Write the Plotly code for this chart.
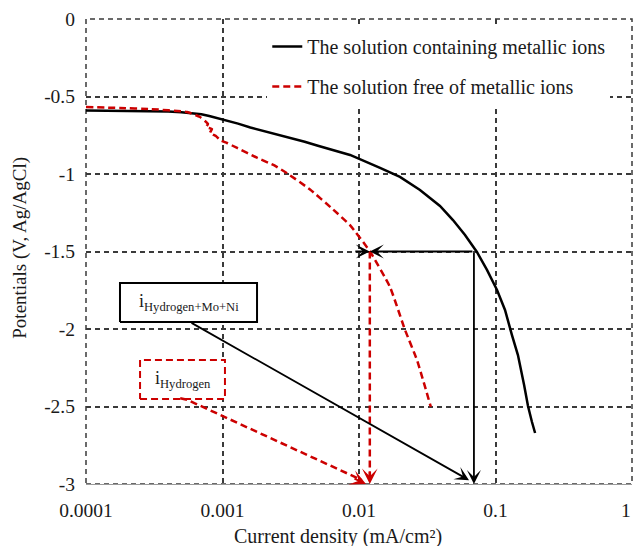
import numpy as np
import plotly.graph_objects as go

# Polarization curves: current density (mA/cm2) vs potential (V vs Ag/AgCl)
metal_current = [0.0001, 0.0002, 0.0003, 0.0004, 0.0005, 0.0006, 0.0007, 0.0008,
                 0.0009, 0.001, 0.0013, 0.0016, 0.002, 0.003, 0.004, 0.005, 0.006,
                 0.0086, 0.01426, 0.01995, 0.02798, 0.0392, 0.0488, 0.0598, 0.0731,
                 0.0866, 0.1026, 0.1174, 0.132, 0.146, 0.162, 0.173, 0.185, 0.195]
metal_potential = [-0.590, -0.592, -0.594, -0.597, -0.601, -0.607, -0.615, -0.626,
                   -0.638, -0.647, -0.675, -0.700, -0.722, -0.762, -0.792, -0.818, -0.838,
                   -0.877, -0.961, -1.019, -1.103, -1.206, -1.297, -1.394, -1.503,
                   -1.619, -1.748, -1.877, -2.039, -2.168, -2.361, -2.497, -2.600, -2.671]

free_current = [0.0001, 0.000177, 0.000294, 0.00055, 0.000684, 0.000744, 0.000783,
                0.00076, 0.000837, 0.00081, 0.000895, 0.000959, 0.00108, 0.00128,
                0.00179, 0.0024, 0.00297, 0.00438, 0.00645, 0.00859, 0.01205, 0.01687,
                0.02173, 0.0266, 0.0336]
free_potential = [-0.568, -0.574, -0.581, -0.600, -0.632, -0.658, -0.677,
                  -0.697, -0.710, -0.735, -0.755, -0.781, -0.800, -0.832,
                  -0.895, -0.945, -0.995, -1.100, -1.228, -1.330, -1.500, -1.729,
                  -2.006, -2.200, -2.503]

# Currents read at the reference potential of -1.5 V
ref_potential = -1.5
bottom_potential = -3.0
i_hydrogen = 0.012
i_total = 0.0695

x_tickvals = [0.0001, 0.001, 0.01, 0.1, 1]
x_ticktext = ["0.0001", "0.001", "0.01", "0.1", "1"]
y_tickvals = [0, -0.5, -1, -1.5, -2, -2.5, -3]
y_ticktext = ["0", "-0.5", "-1", "-1.5", "-2", "-2.5", "-3"]

FONT = "Liberation Serif, Times New Roman, serif"
INK = "#1a1a1a"
RED = "#cc0000"
GRID = "#3a3a3a"
DASH = "7px,4px"

lg = np.log10


def box_trace(x0, x1, y0, y1, color, dash):
    """Closed, white-filled rectangle in data coordinates."""
    return go.Scatter(
        x=[x0, x1, x1, x0, x0], y=[y0, y0, y1, y1, y0],
        mode="lines", fill="toself", fillcolor="white",
        line=dict(color=color, width=2, dash=dash),
        showlegend=False, hoverinfo="skip")


fig = go.Figure()
fig.add_trace(go.Scatter(
    x=metal_current, y=metal_potential, mode="lines",
    name="The solution containing metallic ions",
    line=dict(color="black", width=2.5), legendgroup="a"))
fig.add_trace(go.Scatter(
    x=free_current, y=free_potential, mode="lines",
    name="The solution free of metallic ions",
    line=dict(color=RED, width=2.5, dash=DASH, shape="spline", smoothing=0.4),
    legendgroup="b"))

# label boxes
fig.add_trace(box_trace(10 ** -3.751, 10 ** -2.747, -1.955, -1.703, "black", "solid"))
fig.add_trace(box_trace(10 ** -3.604, 10 ** -2.982, -2.452, -2.200, RED, DASH))

# dashed red guides: i_Hydrogen read-off and pointer from its label
fig.add_trace(go.Scatter(
    x=[i_hydrogen, i_hydrogen], y=[ref_potential, bottom_potential + 0.05],
    mode="lines", line=dict(color=RED, width=2.5, dash=DASH),
    showlegend=False, hoverinfo="skip"))
fig.add_trace(go.Scatter(
    x=[10 ** -3.31, 10 ** -3.26, 0.0105], y=[-2.447, -2.456, bottom_potential + 0.025],
    mode="lines", line=dict(color=RED, width=2.5, dash=DASH),
    showlegend=False, hoverinfo="skip"))

shapes = [
    # dashed frame
    dict(type="rect", xref="paper", yref="paper", x0=0, x1=1, y0=0, y1=1,
         line=dict(color=GRID, width=1.5, dash="5px,4px"), layer="below"),
]

ARW = dict(arrowhead=3, arrowsize=1.3, arrowwidth=1.8, arrowcolor="black", text="",
           showarrow=True, xref="x", yref="y")
ARR = dict(arrowhead=3, arrowsize=1.3, arrowwidth=2, arrowcolor=RED, text="",
           showarrow=True, xref="x", yref="y")

annotations = [
    # box labels
    dict(x=-3.249, y=-1.829, xref="x", yref="y", showarrow=False,
         text="i<sub>Hydrogen+Mo+Ni</sub>", font=dict(family=FONT, size=18, color=INK)),
    dict(x=-3.293, y=-2.326, xref="x", yref="y", showarrow=False,
         text="i<sub>Hydrogen</sub>", font=dict(family=FONT, size=18, color=INK)),
    # black arrows
    dict(x=lg(i_hydrogen), y=ref_potential, ax=lg(i_total), ay=ref_potential,
         axref="x", ayref="y", **ARW),
    dict(x=lg(i_hydrogen), y=ref_potential, ax=-16, ay=0, **ARW),
    dict(x=lg(i_total), y=bottom_potential, ax=lg(i_total), ay=ref_potential,
         axref="x", ayref="y", **ARW),
    dict(x=lg(0.064), y=-2.975, ax=-3.238, ay=-1.955,
         axref="x", ayref="y", **ARW),
    # red arrow heads
    dict(x=lg(i_hydrogen), y=bottom_potential, ax=0, ay=-14, **ARR),
    dict(x=lg(0.01125), y=bottom_potential, ax=-13, ay=-6, **ARR),
    # last x tick label sits on the figure edge
    dict(x=1, y=-0.056, xref="paper", yref="paper", showarrow=False,
         text=x_ticktext[-1], xanchor="right", yanchor="middle", xshift=1,
         font=dict(family=FONT, size=19.5, color=INK)),
    # axis titles
    dict(x=0.462, y=-0.112, xref="paper", yref="paper", showarrow=False,
         text="Current density (mA/cm²)", yanchor="middle",
         font=dict(family=FONT, size=20, color=INK)),
    dict(x=-0.121, y=0.508, xref="paper", yref="paper", showarrow=False,
         text="Potentials (V, Ag/AgCl)", textangle=-90, xanchor="center",
         font=dict(family=FONT, size=19, color=INK)),
]

fig.update_layout(
    width=633, height=546,
    margin=dict(l=86, r=1, t=19, b=62),
    paper_bgcolor="white", plot_bgcolor="white",
    font=dict(family=FONT, size=19.5, color=INK),
    shapes=shapes, annotations=annotations,
    legend=dict(x=0.332, y=0.983, xanchor="left", yanchor="top",
                bgcolor="white", borderwidth=0, tracegroupgap=11,
                font=dict(family=FONT, size=20, color=INK)),
    xaxis=dict(type="log", range=[-4, 0], tickvals=x_tickvals[:-1],
               ticktext=x_ticktext[:-1],
               showgrid=True, gridcolor=GRID, gridwidth=1.5, griddash="5px,4px",
               showline=True, linecolor="#9a9a9a", linewidth=1, mirror=False,
               ticks="", ticklabelstandoff=9, zeroline=False),
    yaxis=dict(range=[-3, 0], tickvals=y_tickvals, ticktext=y_ticktext,
               showgrid=True, gridcolor=GRID, gridwidth=1.5, griddash="5px,4px",
               showline=False, ticks="", ticklabelstandoff=10, zeroline=False),
)

fig.write_html("out.html")
